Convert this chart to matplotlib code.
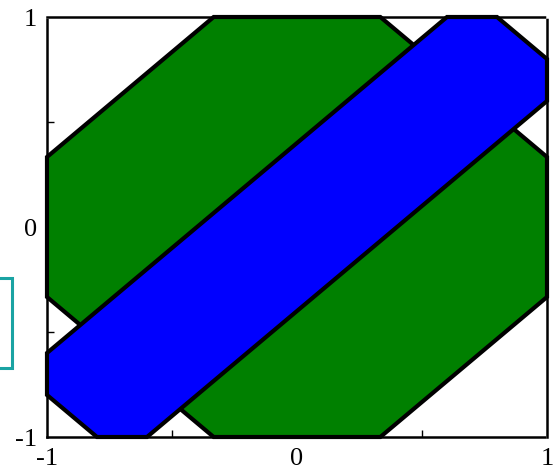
import matplotlib.pyplot as plt
from matplotlib.patches import Polygon, Rectangle

# octagon (green) and diagonal band (blue), vertices in data units
octagon_x = [-1/3, 1/3, 1, 1, 1/3, -1/3, -1, -1]
octagon_y = [1, 1, 1/3, -1/3, -1, -1, -1/3, 1/3]
band_x = [-1, 0.6, 0.8, 1, 1, -0.6, -0.8, -1]
band_y = [-0.6, 1, 1, 0.8, 0.6, -1, -1, -0.8]
tick_vals = [-1, 0, 1]
tick_text = ['-1', '0', '1']

plt.rcParams['font.family'] = ['Liberation Serif', 'DejaVu Serif']

fig = plt.figure(figsize=(5.55, 4.73), dpi=100)
ax = fig.add_axes([47/555, 36/473, 500/555, 420/473])

for xs, ys, color in [(octagon_x, octagon_y, 'green'), (band_x, band_y, 'blue')]:
    ax.add_patch(Polygon(list(zip(xs, ys)), closed=True, facecolor=color,
                         edgecolor='black', linewidth=3.0, clip_on=False))

ax.set_xlim(-1, 1)
ax.set_ylim(-1, 1)
ax.set_xticks(tick_vals)
ax.set_xticklabels(tick_text)
ax.set_yticks(tick_vals)
ax.set_yticklabels(tick_text)
ax.set_xticks([-0.5, 0, 0.5], minor=True)
ax.set_yticks([-0.5, 0, 0.5], minor=True)
ax.tick_params(which='major', length=0, labelsize=19)
ax.tick_params(axis='x', which='major', pad=8)
ax.tick_params(axis='y', which='major', pad=7)
ax.tick_params(which='minor', direction='in', length=5, width=1)

for sp in ax.spines.values():
    sp.set_linestyle((0, (1, 1)))
    sp.set_linewidth(1.8)
    sp.set_zorder(5)

# partly hidden legend frame on the left
fig.add_artist(Rectangle((-20/555, 105/473), 32/555, 90/473, transform=fig.transFigure,
                         fill=False, edgecolor='#1aa3a3', linewidth=2.2))

fig.savefig('out.png', dpi=100)
